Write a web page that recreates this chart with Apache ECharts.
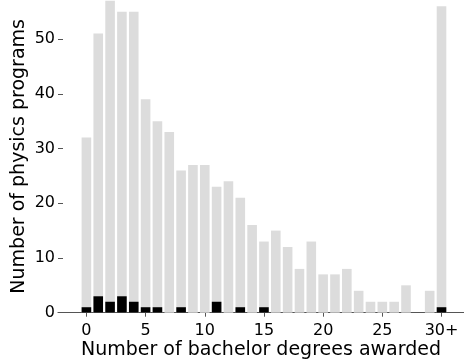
<!DOCTYPE html>
<html>
<head>
<meta charset="utf-8">
<script src="https://cdn.jsdelivr.net/npm/echarts@6/dist/echarts.min.js"></script>
<style>
  html, body { margin: 0; padding: 0; background: #fff; }
  #chart { width: 464px; height: 360px; }
</style>
</head>
<body>
<div id="chart"></div>
<script>
// Degrees awarded per program: bins 0..29, last bin is "30 or more"
const bins = [0, 1, 2, 3, 4, 5, 6, 7, 8, 9, 10, 11, 12, 13, 14, 15,
              16, 17, 18, 19, 20, 21, 22, 23, 24, 25, 26, 27, 28, 29, 30];
// Number of programs in each bin (all programs)
const allPrograms = [32, 51, 57, 55, 55, 39, 35, 33, 26, 27, 27, 23, 24, 21, 16, 13,
                     15, 12, 8, 13, 7, 7, 8, 4, 2, 2, 2, 5, 0, 4, 56];
// Subset of programs drawn in black on top of the gray bars
const subsetPrograms = [1, 3, 2, 3, 2, 1, 1, 0, 1, 0, 0, 2, 0, 1, 0, 1,
                        0, 0, 0, 0, 0, 0, 0, 0, 0, 0, 0, 0, 0, 0, 1];
// Axis ticks
const xTickValues = [0, 5, 10, 15, 20, 25, 30];
const xTickLabels = ['0', '5', '10', '15', '20', '25', '30+'];
const yTickValues = [0, 10, 20, 30, 40, 50];

const FONT = 'DejaVu Sans';
const chart = echarts.init(document.getElementById('chart'), null, { renderer: 'canvas' });

chart.setOption({
  animation: false,
  backgroundColor: '#ffffff',
  grid: { left: 58, right: 0, top: 0, bottom: 47.3, containLabel: false, outerBoundsMode: 'none' },
  xAxis: {
    type: 'value',
    min: -2.4,
    max: 31.9,
    splitLine: { show: false },
    axisLine: { show: true, lineStyle: { color: '#555555', width: 1.2 } },
    axisTick: { show: true, length: 4, lineStyle: { color: '#555555', width: 1 },
                customValues: xTickValues },
    axisLabel: {
      customValues: xTickValues,
      formatter: v => xTickLabels[xTickValues.indexOf(v)],
      color: '#000', fontFamily: FONT, fontSize: 16, margin: 10
    },
    name: 'Number of bachelor degrees awarded',
    nameLocation: 'middle',
    nameGap: 28,
    nameMoveOverlap: false,
    nameTextStyle: { color: '#000', fontFamily: FONT, fontSize: 19 }
  },
  yAxis: {
    type: 'value',
    min: 0,
    max: 57.13,
    splitLine: { show: false },
    axisLine: { show: false, onZero: false },
    axisTick: { show: true, inside: true, length: 5, lineStyle: { color: '#555555', width: 1 },
                customValues: yTickValues },
    axisLabel: {
      customValues: yTickValues,
      color: '#000', fontFamily: FONT, fontSize: 16, margin: 3
    },
    name: 'Number of physics programs',
    nameLocation: 'middle',
    nameGap: 29,
    nameMoveOverlap: false,
    nameTextStyle: { color: '#000', fontFamily: FONT, fontSize: 19 }
  },
  series: [
    {
      name: 'All programs',
      type: 'bar',
      barWidth: 9.6,
      barGap: '-100%',
      itemStyle: { color: '#dcdcdc' },
      data: bins.map((b, i) => [b, allPrograms[i]])
    },
    {
      name: 'Subset',
      type: 'bar',
      barWidth: 9.6,
      barGap: '-100%',
      itemStyle: { color: '#000000' },
      data: bins.map((b, i) => [b, subsetPrograms[i]])
    }
  ]
});
</script>
</body>
</html>
